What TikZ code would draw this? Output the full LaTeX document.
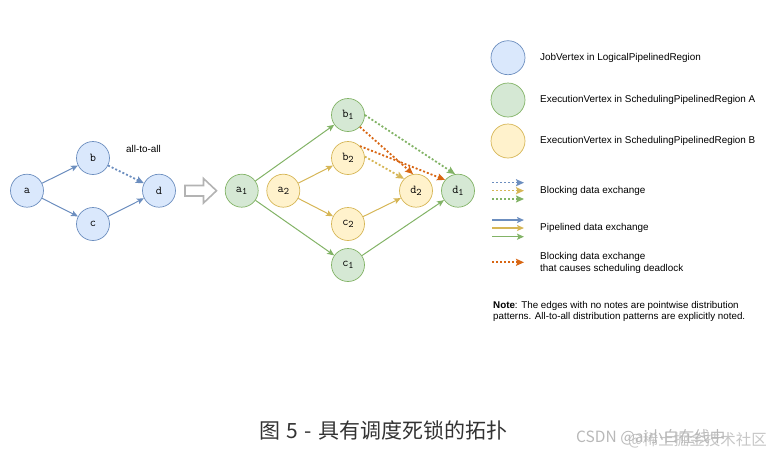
\documentclass[tikz,border=0pt]{standalone}
\usepackage{fontspec}
\setsansfont{Liberation Sans}
\newfontfamily\cjk{Noto Sans CJK SC}
\usetikzlibrary{arrows.meta}
\definecolor{bleuFond}{HTML}{DAE8FC}
\definecolor{bleuTrait}{HTML}{6C8EBF}
\definecolor{vertFond}{HTML}{D5E8D4}
\definecolor{vertTrait}{HTML}{82B366}
\definecolor{jauneFond}{HTML}{FFF2CC}
\definecolor{jauneTrait}{HTML}{D6B656}
\definecolor{orangeBloc}{HTML}{D86613}
\definecolor{grisFleche}{HTML}{B3B3B3}
\definecolor{grisLegende}{HTML}{333333}
\definecolor{grisFiligrane}{HTML}{B8B8B8}
\newcommand{\sommet}[2]{#1\raisebox{-2.5pt}{\fontsize{10}{10}\selectfont #2}}
\begin{document}
\begin{tikzpicture}[x=1pt,y=-1pt]
		\tikzstyle{noeud}=[circle,draw,minimum size=33pt,inner sep=0pt,line width=0.7pt,font=\ttfamily\fontsize{12}{12}\selectfont]
		\tikzstyle{noeudBleu}=[noeud,fill=bleuFond,draw=bleuTrait]
		\tikzstyle{noeudVert}=[noeud,fill=vertFond,draw=vertTrait]
		\tikzstyle{noeudJaune}=[noeud,fill=jauneFond,draw=jauneTrait]
		\tikzstyle{fleche}=[line width=1pt,-{Stealth[length=7pt,width=6pt,inset=1.5pt]}]
		\tikzstyle{flecheBloc}=[line width=1.8pt,dash pattern=on 2pt off 2pt,-{Stealth[length=8pt,width=7pt,inset=1.5pt]}]
		\tikzstyle{texte}=[anchor=west,inner sep=0pt,font=\sffamily\fontsize{9.9}{12}\selectfont]
		\tikzstyle{filigrane}=[anchor=west,inner sep=0pt,text=grisFiligrane,font=\cjk\fontsize{15.5}{15.5}\selectfont]
		\def\LigneHaut{115}
		\def\LigneB{158}
		\def\LigneMilieu{190.7}
		\def\LigneC{224}
		\def\LigneBas{265}
		\def\DebutLegende{492}
		\def\FinLegende{524}
		\useasboundingbox (0,0) rectangle (777,456);
		% graphe logique
		\node[noeudBleu] (a) at (27,\LigneMilieu) {a};
		\node[noeudBleu] (b) at (93,\LigneB) {b};
		\node[noeudBleu] (c) at (93,\LigneC) {c};
		\node[noeudBleu] (d) at (159,\LigneMilieu) {d};
		\node[texte,anchor=center] (tous) at (143.5,149) {all-to-all};
		\draw[fleche,bleuTrait] (a)--(b);
		\draw[fleche,bleuTrait] (a)--(c);
		\draw[fleche,bleuTrait] (c)--(d);
		\draw[flecheBloc,bleuTrait] (b)--(d);
		% grosse fleche
		\draw[grisFleche,line width=1.6pt,fill=white,line join=miter] (185,185.5)--(203.5,185.5)--(203.5,178.5)--(216.5,190.7)--(203.5,203)--(203.5,196)--(185,196)--cycle;
		% graphe d'execution
		\node[noeudVert] (a1) at (241.7,\LigneMilieu) {\sommet{a}{1}};
		\node[noeudJaune] (a2) at (283.3,\LigneMilieu) {\sommet{a}{2}};
		\node[noeudVert] (b1) at (348,\LigneHaut) {\sommet{b}{1}};
		\node[noeudJaune] (b2) at (348,\LigneB) {\sommet{b}{2}};
		\node[noeudJaune] (c2) at (348,\LigneC) {\sommet{c}{2}};
		\node[noeudVert] (c1) at (348,\LigneBas) {\sommet{c}{1}};
		\node[noeudJaune] (d2) at (416,\LigneMilieu) {\sommet{d}{2}};
		\node[noeudVert] (d1) at (458,\LigneMilieu) {\sommet{d}{1}};
		\draw[fleche,vertTrait] (a1)--(b1);
		\draw[fleche,vertTrait] (a1)--(c1);
		\draw[fleche,vertTrait] (c1)--(d1);
		\draw[fleche,jauneTrait] (a2)--(b2);
		\draw[fleche,jauneTrait] (a2)--(c2);
		\draw[fleche,jauneTrait] (c2)--(d2);
		\draw[flecheBloc,vertTrait] (b1.east)--(d1.100);
		\draw[flecheBloc,jauneTrait] (b2.5)--(d2.135);
		\draw[flecheBloc,orangeBloc] (b1.-45)--(d2.100);
		\draw[flecheBloc,orangeBloc] (b2.45)--(d1.140);
		% legende
		\node[noeudBleu,minimum size=34pt] (legBleu) at (508,57.7) {};
		\node[noeudVert,minimum size=34pt] (legVert) at (508,100) {};
		\node[noeudJaune,minimum size=34pt] (legJaune) at (508,141) {};
		\node[texte] (txtBleu) at (540,57.7) {JobVertex in LogicalPipelinedRegion};
		\node[texte] (txtVert) at (540,100) {ExecutionVertex in SchedulingPipelinedRegion A};
		\node[texte] (txtJaune) at (540,141) {ExecutionVertex in SchedulingPipelinedRegion B};
		\foreach \y/\couleur/\nom in {182.7/bleuTrait/Bleu,190.7/jauneTrait/Jaune,199/vertTrait/Vert}{
			\coordinate (bloc\nom A) at (\DebutLegende,\y);
			\coordinate (bloc\nom B) at (\FinLegende,\y);
			\draw[flecheBloc,\couleur,line width=1.5pt] (bloc\nom A)--(bloc\nom B);
		}
		\foreach \y/\couleur/\nom in {220/bleuTrait/Bleu,228/jauneTrait/Jaune,236.7/vertTrait/Vert}{
			\coordinate (pipe\nom A) at (\DebutLegende,\y);
			\coordinate (pipe\nom B) at (\FinLegende,\y);
			\draw[fleche,\couleur,line width=1.5pt] (pipe\nom A)--(pipe\nom B);
		}
		\coordinate (blocOrangeA) at (\DebutLegende,262.3);
		\coordinate (blocOrangeB) at (\FinLegende,262.3);
		\draw[flecheBloc,orangeBloc] (blocOrangeA)--(blocOrangeB);
		\node[texte] (txtBloc) at (540,190.7) {Blocking data exchange};
		\node[texte] (txtPipe) at (540,228) {Pipelined data exchange};
		\node[texte,align=left] (txtOrange) at (540,263) {Blocking data exchange\\that causes scheduling deadlock};
		\node[texte,align=left,font=\sffamily\fontsize{9.8}{10.8}\selectfont] (note) at (493,311.3) {\textbf{Note}: The edges with no notes are pointwise distribution\\patterns. All-to-all distribution patterns are explicitly noted.};
		% titre
		\node[font=\cjk\fontsize{21}{21}\selectfont,text=grisLegende,inner sep=0pt] (titre) at (383.5,430) {图\hspace{6pt}5\hspace{7pt}-\hspace{7pt}具有调度死锁的拓扑};
		\node[filigrane] (filigraneA) at (576,437) {CSDN @ai小白在线中};
		\node[filigrane,opacity=0.8] (filigraneB) at (628,440) {@稀土掘金技术社区};
	\end{tikzpicture}
\end{document}
